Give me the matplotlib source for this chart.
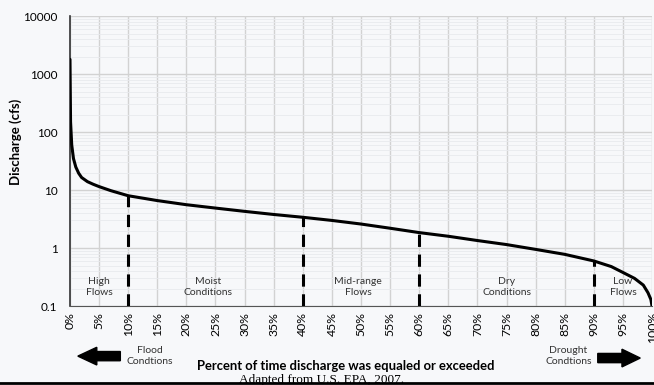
import numpy as np
import matplotlib.pyplot as plt
from matplotlib.ticker import LogLocator

# flow duration curve
pct = [0, 0.1, 0.3, 0.6, 1, 1.5, 2, 3, 4, 5, 7, 10, 15, 20, 25, 30, 35, 40, 45,
       50, 55, 60, 65, 70, 75, 80, 85, 90, 93, 95, 97, 98.5, 99.3, 99.8, 100]
flow = [1800, 150, 60, 35, 25, 19.5, 16.5, 14, 12.6, 11.5, 9.8, 8.0, 6.6, 5.6,
        4.9, 4.3, 3.8, 3.4, 3.0, 2.6, 2.2, 1.85, 1.6, 1.35, 1.15, 0.95, 0.78,
        0.6, 0.48, 0.38, 0.3, 0.23, 0.17, 0.13, 0.1]

split_pct = [10, 40, 60, 90]
split_top = [8.0, 3.4, 1.85, 0.6]

zone_x = [5, 23.7, 49.5, 75, 95]
zone_txt = ['High\nFlows', 'Moist\nConditions', 'Mid-range\nFlows', 'Dry\nConditions', 'Low\nFlows']

xticks = list(range(0, 101, 5))
xlabels = ['%d%%' % v for v in xticks]
yticks = [0.1, 1, 10, 100, 1000, 10000]
ylabels = ['0.1', '1', '10', '100', '1000', '10000']

plt.rcParams['font.family'] = ['Lato', 'DejaVu Sans']

fig = plt.figure(figsize=(6.54, 3.85), dpi=100)
fig.patch.set_facecolor('#f7f8fa')
ax = fig.add_axes([0.107, 0.205, 0.89, 0.753])
ax.set_facecolor('#f7f8fa')

ax.set_yscale('log')
ax.set_ylim(0.1, 10000)
ax.set_xlim(0, 100)

ax.plot(pct, flow, color='black', lw=2.2, solid_capstyle='round', zorder=3)
for p, t in zip(split_pct, split_top):
    ax.plot([p, p], [0.1, t], color='black', lw=2.2, ls=(0, (4, 2.5)), zorder=3)

for x, t in zip(zone_x, zone_txt):
    ax.text(x, 0.21, t, ha='center', va='center', fontsize=7.5, color='#333333',
            linespacing=1.3)

ax.set_xticks(xticks)
ax.set_xticklabels(xlabels, rotation=90, fontsize=8.8)
ax.set_yticks(yticks)
ax.set_yticklabels(ylabels, fontsize=8.5)
ax.yaxis.set_minor_locator(LogLocator(base=10, subs=np.arange(2, 10)))
ax.yaxis.set_minor_formatter(plt.NullFormatter())
ax.tick_params(length=0, which='both')
ax.tick_params(axis='x', pad=4.5)
ax.tick_params(axis='y', pad=9)

ax.grid(True, which='major', axis='both', color='#d2d2d2', lw=1)
ax.grid(True, which='minor', axis='y', color='#e8eaee', lw=0.6)
ax.set_axisbelow(True)

for s in ['top', 'right']:
    ax.spines[s].set_visible(False)
ax.spines['left'].set_color('#333333')
ax.spines['bottom'].set_color('#555555')
ax.spines['left'].set_linewidth(1.2)

ax.set_ylabel('Discharge (cfs)', fontsize=9.5, fontweight='bold')
ax.yaxis.set_label_coords(-0.082, 0.566)

fig.text(0.528, 0.049, 'Percent of time discharge was equaled or exceeded',
         ha='center', va='center', fontsize=9.4, fontweight='bold')
fig.text(0.491, 0.012, 'Adapted from U.S. EPA, 2007.', ha='center', va='center',
         fontsize=9.5, family='Liberation Serif')

fig.text(0.229, 0.075, 'Flood\nCondtions', ha='center', va='center', fontsize=7.5,
         color='#333333', linespacing=1.3)
fig.text(0.869, 0.075, 'Drought\nCondtions', ha='center', va='center', fontsize=7.5,
         color='#333333', linespacing=1.3)
# block arrows, tip and tail in figure fractions
fig.patches.append(plt.Polygon(
    [[0.184, 0.063], [0.148, 0.063], [0.148, 0.052], [0.119, 0.075],
     [0.148, 0.098], [0.148, 0.087], [0.184, 0.087]],
    closed=True, transform=fig.transFigure, color='black'))
fig.patches.append(plt.Polygon(
    [[0.914, 0.058], [0.951, 0.058], [0.951, 0.047], [0.979, 0.07],
     [0.951, 0.093], [0.951, 0.082], [0.914, 0.082]],
    closed=True, transform=fig.transFigure, color='black'))
fig.add_artist(plt.Line2D([0, 1], [0.004, 0.004], transform=fig.transFigure,
                          color='black', lw=2))

fig.savefig('out.png', dpi=100, facecolor=fig.get_facecolor())
